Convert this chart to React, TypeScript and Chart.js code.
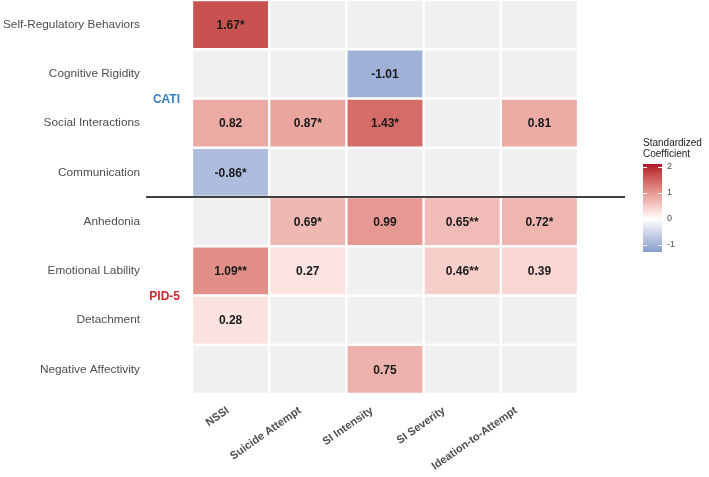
import { useEffect, useRef } from "react";
import { Chart, registerables } from "chart.js";

Chart.register(...registerables);

// Outcomes (columns) and predictors (rows, top to bottom)
const outcomes = ["NSSI", "Suicide Attempt", "SI Intensity", "SI Severity", "Ideation-to-Attempt"];
const predictors = [
  "Self-Regulatory Behaviors",
  "Cognitive Rigidity",
  "Social Interactions",
  "Communication",
  "Anhedonia",
  "Emotional Lability",
  "Detachment",
  "Negative Affectivity",
];

// Standardized coefficients; null = not retained in the model
const coefficients: (number | null)[][] = [
  [1.67, null, null, null, null],
  [null, null, -1.01, null, null],
  [0.82, 0.87, 1.43, null, 0.81],
  [-0.86, null, null, null, null],
  [null, 0.69, 0.99, 0.65, 0.72],
  [1.09, 0.27, null, 0.46, 0.39],
  [0.28, null, null, null, null],
  [null, null, 0.75, null, null],
];

// Significance markers for each coefficient
const significance: string[][] = [
  ["*", "", "", "", ""],
  ["", "", "", "", ""],
  ["", "*", "*", "", ""],
  ["*", "", "", "", ""],
  ["", "*", "", "**", "*"],
  ["**", "", "", "**", ""],
  ["", "", "", "", ""],
  ["", "", "", "", ""],
];

// Instrument groups: name, first row, row count
const groupNames = ["CATI", "PID-5"];
const groupStart = [0, 4];
const groupSize = [4, 4];

// Colour bar
const legendTitle = ["Standardized", "Coefficient"];
const legendTicks = [2, 1, 0, -1];
const legendLimits = [-1.25, 2.08];

// Range of the outcome-label axis (labels sit on a slightly tighter pitch than the tiles)
const labelAxisRange = [-0.5, 4.861];

const FONT = "'Liberation Sans', Arial, Helvetica, sans-serif";
const EMPTY = "#F0F0F0";
const HIGH = "#B2182B";
const LOW = "#2166AC";
const GROUP_COLORS = ["#3A80C4", "#D6262E"];

// ---- colour helpers (Lab interpolation through white) ----
function hexToRgb(h: string): number[] {
  const n = parseInt(h.slice(1), 16);
  return [(n >> 16) & 255, (n >> 8) & 255, n & 255];
}
function toLin(c: number) {
  const v = c / 255;
  return v <= 0.04045 ? v / 12.92 : Math.pow((v + 0.055) / 1.055, 2.4);
}
function fromLin(v: number) {
  const c = v <= 0.0031308 ? 12.92 * v : 1.055 * Math.pow(v, 1 / 2.4) - 0.055;
  return Math.max(0, Math.min(255, Math.round(c * 255)));
}
const WX = 0.95047, WY = 1, WZ = 1.08883;
function fLab(t: number) {
  return t > 216 / 24389 ? Math.cbrt(t) : (24389 / 27 * t + 16) / 116;
}
function fInv(t: number) {
  return t * t * t > 216 / 24389 ? t * t * t : (116 * t - 16) / (24389 / 27);
}
function rgbToLab(rgb: number[]): number[] {
  const [r, g, b] = rgb.map(toLin);
  const x = (0.4124 * r + 0.3576 * g + 0.1805 * b) / WX;
  const y = (0.2126 * r + 0.7152 * g + 0.0722 * b) / WY;
  const z = (0.0193 * r + 0.1192 * g + 0.9505 * b) / WZ;
  const fx = fLab(x), fy = fLab(y), fz = fLab(z);
  return [116 * fy - 16, 500 * (fx - fy), 200 * (fy - fz)];
}
function labToRgb(lab: number[]): number[] {
  const fy = (lab[0] + 16) / 116;
  const fx = fy + lab[1] / 500;
  const fz = fy - lab[2] / 200;
  const x = fInv(fx) * WX, y = fInv(fy) * WY, z = fInv(fz) * WZ;
  const r = 3.2406 * x - 1.5372 * y - 0.4986 * z;
  const g = -0.9689 * x + 1.8758 * y + 0.0415 * z;
  const b = 0.0557 * x - 0.204 * y + 1.057 * z;
  return [fromLin(r), fromLin(g), fromLin(b)];
}
const LAB_WHITE = rgbToLab([255, 255, 255]);
const LAB_HIGH = rgbToLab(hexToRgb(HIGH));
const LAB_LOW = rgbToLab(hexToRgb(LOW));
const MAX_ABS = Math.max(Math.abs(legendLimits[0]), Math.abs(legendLimits[1]));

function fillFor(v: number): string {
  const t = Math.min(1, Math.abs(v) / MAX_ABS);
  const end = v >= 0 ? LAB_HIGH : LAB_LOW;
  const lab = LAB_WHITE.map((w, i) => w + (end[i] - w) * t);
  const [r, g, b] = labToRgb(lab);
  return `rgb(${r},${g},${b})`;
}

function formatCell(v: number, sig: string) {
  return v.toFixed(2) + sig;
}

// Keep axis label overhang from shrinking the plotting area
function clearPadding(s: any) {
  s.paddingTop = 0;
  s.paddingBottom = 0;
  s.paddingLeft = 0;
  s.paddingRight = 0;
}

// Draws cell values, group labels, separator and the colour bar
const overlayPlugin = {
  id: "heatOverlay",
  afterDatasetsDraw(chart: any) {
    const { ctx, chartArea, scales } = chart;
    const yScale = scales.y;
    ctx.save();

    // cell values
    ctx.font = `bold 12px ${FONT}`;
    ctx.fillStyle = "#1A1A1A";
    ctx.textAlign = "center";
    ctx.textBaseline = "middle";
    predictors.forEach((_, r) => {
      const meta = chart.getDatasetMeta(r);
      meta.data.forEach((bar: any, c: number) => {
        const v = coefficients[r][c];
        if (v === null) return;
        const p = bar.getProps(["x", "y", "base"], true);
        ctx.fillText(formatCell(v, significance[r][c]), p.x, (p.y + p.base) / 2 + 1);
      });
    });

    // group labels
    ctx.font = `bold 12px ${FONT}`;
    ctx.textAlign = "right";
    groupNames.forEach((g, i) => {
      const yMid = yScale.getPixelForValue(groupStart[i] + groupSize[i] / 2);
      ctx.fillStyle = GROUP_COLORS[i];
      ctx.fillText(g, chartArea.left - 12, yMid + 1);
    });

    // separator between instruments
    const ySep = yScale.getPixelForValue(groupStart[1]);
    ctx.strokeStyle = "#404040";
    ctx.lineWidth = 2;
    ctx.beginPath();
    ctx.moveTo(chartArea.left - 46, ySep);
    ctx.lineTo(chartArea.right + 47, ySep);
    ctx.stroke();

    // colour bar legend
    const barX = 643, barW = 19;
    const unit = 26;
    const yOf = (v: number) => 167 + (2 - v) * unit;
    const yTop = yOf(legendLimits[1]);
    const yBot = yOf(legendLimits[0]);
    for (let y = Math.floor(yTop); y < yBot; y++) {
      const v = 2 - (y + 0.5 - 167) / unit;
      ctx.fillStyle = fillFor(v);
      ctx.fillRect(barX, y, barW, 1);
    }
    ctx.strokeStyle = "#FFFFFF";
    ctx.lineWidth = 1;
    legendTicks.forEach((t) => {
      const y = Math.round(yOf(t)) + 0.5;
      ctx.beginPath();
      ctx.moveTo(barX, y);
      ctx.lineTo(barX + 4, y);
      ctx.moveTo(barX + barW - 4, y);
      ctx.lineTo(barX + barW, y);
      ctx.stroke();
    });
    ctx.fillStyle = "#4D4D4D";
    ctx.font = `9px ${FONT}`;
    ctx.textAlign = "left";
    ctx.textBaseline = "middle";
    legendTicks.forEach((t) => {
      ctx.fillText(String(t), barX + barW + 5, yOf(t));
    });
    ctx.fillStyle = "#1A1A1A";
    ctx.font = `10px ${FONT}`;
    ctx.textBaseline = "alphabetic";
    legendTitle.forEach((line, i) => {
      ctx.fillText(line, barX, 146 + i * 11);
    });

    ctx.restore();
  },
};

export default function App() {
  const canvasRef = useRef<HTMLCanvasElement | null>(null);

  useEffect(() => {
    const canvas = canvasRef.current;
    if (!canvas) return;

    const datasets = predictors.map((name, r) => ({
      label: name,
      data: outcomes.map(() => 1),
      backgroundColor: coefficients[r].map((v) => (v === null ? EMPTY : fillFor(v))),
      borderColor: "#FFFFFF",
      borderWidth: 1.5,
      borderSkipped: false as const,
      barPercentage: 1,
      categoryPercentage: 1,
      stack: "grid",
      xAxisID: "x",
      yAxisID: "y",
    }));

    const chart = new Chart(canvas, {
      type: "bar",
      data: { labels: outcomes, datasets },
      options: {
        animation: false,
        responsive: false,
        devicePixelRatio: 1,
        layout: { autoPadding: false, padding: { top: 0, right: 131, bottom: 0, left: 0 } },
        plugins: {
          legend: { display: false },
          tooltip: { enabled: false },
        },
        scales: {
          x: {
            type: "category",
            stacked: true,
            grid: { display: false, drawTicks: false },
            border: { display: false },
            ticks: { display: false },
            afterFit: (s: any) => {
              s.height = 0;
              clearPadding(s);
            },
          },
          outcomeLabels: {
            type: "linear",
            position: "bottom",
            offset: false,
            bounds: "data",
            min: labelAxisRange[0],
            max: labelAxisRange[1],
            grid: { display: false, drawTicks: false },
            border: { display: false },
            afterBuildTicks: (s: any) => {
              s.ticks = outcomes.map((_, i) => ({ value: i }));
            },
            ticks: {
              autoSkip: false,
              minRotation: 35,
              maxRotation: 35,
              padding: 10,
              color: "#4D4D4D",
              font: { family: FONT, size: 11, weight: "bold" },
              callback: (_v: any, i: number) => outcomes[i],
            },
            afterFit: (s: any) => {
              s.height = 83;
              clearPadding(s);
            },
          },
          y: {
            type: "linear",
            stacked: true,
            reverse: true,
            min: 0,
            max: predictors.length,
            grid: { display: false, drawTicks: false },
            border: { display: false },
            afterBuildTicks: (s: any) => {
              s.ticks = predictors.map((_, i) => ({ value: i + 0.5 }));
            },
            ticks: {
              padding: 52,
              color: "#4D4D4D",
              font: { family: FONT, size: 11.8 },
              callback: (_v: any, i: number) => predictors[i],
            },
            afterFit: (s: any) => {
              s.width = 192;
              clearPadding(s);
            },
          },
        },
      },
      plugins: [overlayPlugin],
    });

    return () => chart.destroy();
  }, []);

  return (
    <div style={{ position: "fixed", left: 0, top: 0, width: 709, height: 477, background: "#FFFFFF" }}>
      <canvas ref={canvasRef} width={709} height={477} style={{ width: 709, height: 477, display: "block" }} />
    </div>
  );
}
